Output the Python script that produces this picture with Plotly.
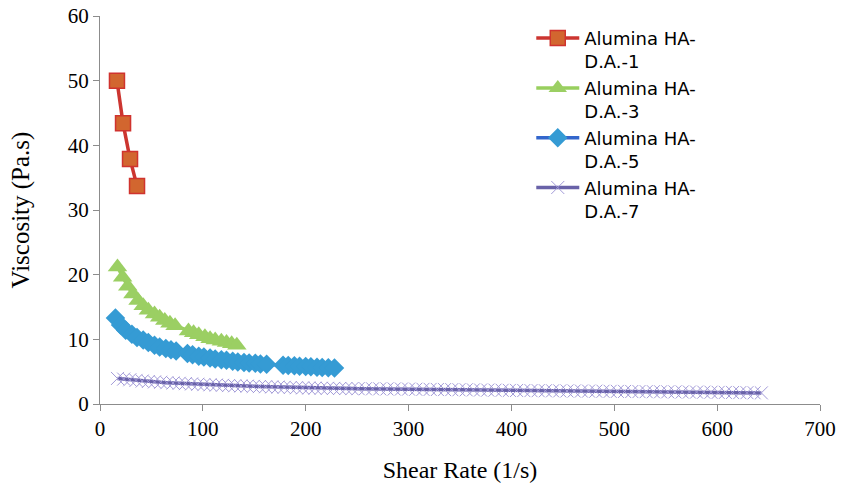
import plotly.graph_objects as go

# ---- data ----
x_da1 = [16.5, 22.4, 29.2, 36.0]
y_da1 = [50.0, 43.4, 37.9, 33.7]

x_da3 = [17, 22, 27, 32, 37, 42, 47, 53, 58, 63, 68, 73,
         86, 91, 96, 102, 107, 112, 118, 123, 128, 133]
y_da3 = [21.2, 19.6, 18.2, 17.0, 16.0, 15.2, 14.5, 13.9, 13.4, 12.9, 12.5, 12.1,
         11.3, 11.0, 10.7, 10.4, 10.1, 9.9, 9.7, 9.5, 9.3, 9.1]

x_da5 = [15, 20, 25, 31, 36, 42, 47, 53, 58, 64, 69, 74,
         85, 90, 96, 101, 107, 112, 118, 123, 129, 134, 140, 145, 151, 156, 162,
         178, 183, 189, 194, 200, 205, 211, 216, 222, 228]
y_da5 = [13.3, 12.2, 11.4, 10.8, 10.3, 9.9, 9.5, 9.1, 8.8, 8.6, 8.4, 8.2,
         7.8, 7.6, 7.4, 7.25, 7.1, 6.95, 6.85, 6.75, 6.6, 6.5, 6.4, 6.35, 6.3, 6.2, 6.15,
         6.0, 5.95, 5.9, 5.85, 5.8, 5.75, 5.7, 5.65, 5.6, 5.55]

x_da7 = [17, 23, 29, 35, 41, 47, 53, 59, 65, 71, 77, 83, 89, 95, 101, 107,
         113, 119, 125, 131, 137, 143, 149, 155, 161, 167, 173, 179, 185, 191,
         197, 203, 209, 215, 221, 227, 233, 239, 245, 251, 258, 265, 272, 279,
         286, 293, 300, 307, 314, 321, 328, 335, 342, 349, 356, 363, 370, 377,
         384, 391, 398, 405, 412, 419, 426, 433, 440, 447, 454, 461, 468, 475,
         482, 489, 496, 503, 510, 517, 524, 531, 538, 545, 552, 559, 566, 573,
         580, 587, 594, 601, 608, 615, 622, 629, 636, 643]
y_da7 = [3.95, 3.85, 3.75, 3.65, 3.55, 3.48, 3.42, 3.36, 3.30, 3.25, 3.20, 3.15, 3.10, 3.05, 3.00, 2.97,
         2.93, 2.89, 2.85, 2.82, 2.79, 2.76, 2.73, 2.70, 2.67, 2.64, 2.61, 2.58, 2.55, 2.52,
         2.49, 2.47, 2.45, 2.43, 2.42, 2.41, 2.40, 2.39, 2.38, 2.37, 2.36, 2.35, 2.34, 2.33,
         2.32, 2.31, 2.30, 2.28, 2.27, 2.26, 2.24, 2.23, 2.22, 2.20, 2.19, 2.18, 2.16, 2.15,
         2.14, 2.12, 2.10, 2.09, 2.08, 2.07, 2.06, 2.05, 2.04, 2.03, 2.02, 2.01, 2.00, 1.99,
         1.98, 1.97, 1.96, 1.95, 1.94, 1.93, 1.92, 1.91, 1.90, 1.89, 1.88, 1.87, 1.86, 1.85,
         1.84, 1.83, 1.82, 1.80, 1.79, 1.78, 1.76, 1.75, 1.73, 1.72]

names = ["Alumina HA-<br>D.A.-1", "Alumina HA-<br>D.A.-3",
         "Alumina HA-<br>D.A.-5", "Alumina HA-<br>D.A.-7"]

x_ticks = [0, 100, 200, 300, 400, 500, 600, 700]
y_ticks = [0, 10, 20, 30, 40, 50, 60]

fig = go.Figure()

fig.add_trace(go.Scatter(
    x=x_da1, y=y_da1, name=names[0], mode="lines+markers",
    line=dict(color="#CC3530", width=3.5),
    marker=dict(symbol="square", size=15, color="#D2662F",
                line=dict(color="#D0332E", width=1.5))))

fig.add_trace(go.Scatter(
    x=x_da3, y=y_da3, name=names[1], mode="lines+markers",
    line=dict(color="#98CF5E", width=3.5),
    marker=dict(symbol="triangle-up", size=17, color="#9BCF63",
                line=dict(width=0))))

fig.add_trace(go.Scatter(
    x=x_da5, y=y_da5, name=names[2], mode="lines+markers",
    line=dict(color="#3366CC", width=3.5),
    marker=dict(symbol="diamond", size=15, color="#359BD4",
                line=dict(width=0))))

fig.add_trace(go.Scatter(
    x=x_da7, y=y_da7, name=names[3], mode="lines+markers",
    line=dict(color="#6962A8", width=3.5),
    marker=dict(symbol="x-thin", size=13, color="#A29AD8",
                line=dict(color="#A29AD8", width=1))))

axis_col = "#8C8C8C"
tick_font = dict(family="Liberation Serif", size=21, color="#000000")

fig.update_layout(
    width=842, height=489,
    margin=dict(l=100, r=22, t=16, b=85, autoexpand=False),
    paper_bgcolor="white", plot_bgcolor="white",
    showlegend=True,
    legend=dict(x=0.599, y=0.99, xanchor="left", yanchor="top",
                font=dict(family="DejaVu Sans", size=18, color="#000000"),
                bgcolor="rgba(0,0,0,0)", itemwidth=43, valign="top"),
    xaxis=dict(range=[0, 700], tickvals=x_ticks, showgrid=False, zeroline=False,
               automargin=False,
               showline=True, linecolor=axis_col, linewidth=1,
               ticks="outside", ticklen=6, tickcolor=axis_col,
               tickfont=tick_font,
               title=dict(text="Shear Rate (1/s)", standoff=20,
                          font=dict(family="Liberation Serif", size=24, color="#000000"))),
    yaxis=dict(range=[0, 60], tickvals=y_ticks, showgrid=False, zeroline=False,
               automargin=False,
               showline=True, linecolor=axis_col, linewidth=1,
               ticks="outside", ticklen=6, tickcolor=axis_col,
               tickfont=tick_font,
               title=dict(text="Viscosity (Pa.s)", standoff=31,
                          font=dict(family="Liberation Serif", size=25, color="#000000"))),
)

fig.write_html("out.html")
